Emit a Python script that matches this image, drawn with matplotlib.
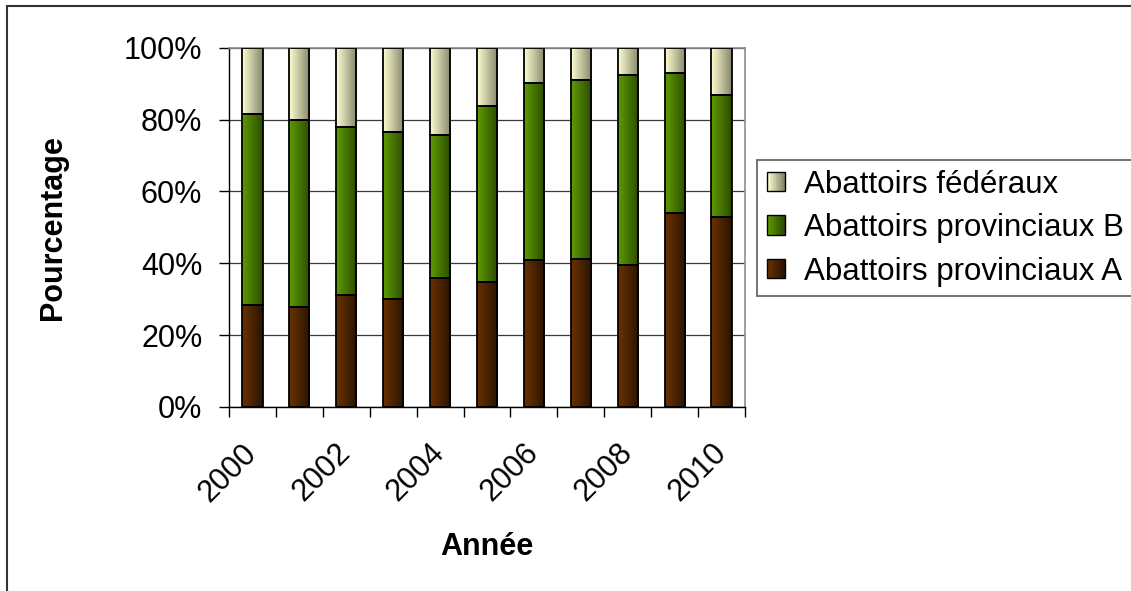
import numpy as np
import matplotlib
matplotlib.use("Agg")
import matplotlib.pyplot as plt
from matplotlib.colors import LinearSegmentedColormap
from matplotlib.patches import Rectangle
from matplotlib.legend_handler import HandlerBase
from matplotlib.transforms import ScaledTranslation

plt.rcParams["font.family"] = ["Liberation Sans", "DejaVu Sans"]

# Share of slaughter by type of abattoir (percent of total)
years = [2000, 2001, 2002, 2003, 2004, 2005, 2006, 2007, 2008, 2009, 2010]
prov_a = [28.3, 27.9, 31.3, 30.0, 35.9, 34.9, 40.8, 41.2, 39.4, 53.9, 52.9]
prov_b = [53.3, 51.9, 46.7, 46.6, 39.8, 48.9, 49.4, 49.8, 53.0, 39.0, 34.0]
federal = [100 - a - b for a, b in zip(prov_a, prov_b)]

series_names = ["Abattoirs provinciaux A", "Abattoirs provinciaux B", "Abattoirs fédéraux"]
series_values = [prov_a, prov_b, federal]
# light (left edge) -> dark (right edge) shading of each bar
gradients = [
    ("#6a3200", "#2a1300"),
    ("#5e9c00", "#2c4a00"),
    ("#ffffd2", "#85856a"),
]
year_labels = [str(y) if y % 2 == 0 else "" for y in years]

W, H = 1131, 591
fig = plt.figure(figsize=(W / 100, H / 100), dpi=100)
ax = fig.add_axes([229 / W, 1 - 407 / H, (745 - 229) / W, (407 - 47.7) / H])

x = np.arange(len(years))
bar_w = 0.43
grad = np.linspace(0, 1, 256).reshape(1, -1)
bottom = np.zeros(len(years))
for vals, (c0, c1) in zip(series_values, gradients):
    cmap = LinearSegmentedColormap.from_list("shade", [c0, c1])
    bars = ax.bar(x, vals, bar_w, bottom=bottom, facecolor="none",
                  edgecolor="black", linewidth=1.3, zorder=3)
    for patch in bars.patches:
        x0, y0 = patch.get_x(), patch.get_y()
        im = ax.imshow(grad, cmap=cmap, aspect="auto", interpolation="bilinear",
                       extent=[x0, x0 + patch.get_width(), y0, y0 + patch.get_height()],
                       zorder=2)
        im.set_clip_path(patch)
    bottom += np.array(vals)

ax.set_xlim(-0.5, len(years) - 0.5)
ax.set_ylim(0, 100)

FS = 22

# horizontal grid
ax.set_yticks(np.arange(0, 101, 20))
ax.set_yticklabels([f"{v}%" for v in range(0, 101, 20)], fontsize=FS)
ax.yaxis.grid(True, color="#3a3a3a", linewidth=0.9, zorder=0)
ax.set_axisbelow(True)

# category axis: ticks between bars, labels centred under bars
ax.set_xticks(np.arange(-0.5, len(years), 1.0))
ax.set_xticklabels([])
ax.set_xticks(x, minor=True)
ax.set_xticklabels(year_labels, minor=True, rotation=45, ha="right",
                   va="center", rotation_mode="anchor", fontsize=FS)
shift = ScaledTranslation(-17 / 100, 0, fig.dpi_scale_trans)
for lab in ax.get_xticklabels(minor=True):
    lab.set_transform(lab.get_transform() + shift)
ax.tick_params(axis="x", which="major", length=7.5, width=1, color="black", direction="out")
ax.tick_params(axis="x", which="minor", length=0, pad=30)
ax.tick_params(axis="y", length=7.2, width=1, pad=12)

for side in ("top", "right"):
    ax.spines[side].set_color("#8c8c8c")
    ax.spines[side].set_linewidth(1.2)
for side in ("left", "bottom"):
    ax.spines[side].set_color("black")
    ax.spines[side].set_linewidth(1.0)

ax.set_ylabel("Pourcentage", fontsize=FS, fontweight="bold", va="center")
ax.yaxis.set_label_coords(-0.341, 0.5)
ax.set_xlabel("Année", fontsize=FS, fontweight="bold", va="center")
ax.xaxis.set_label_coords(0.5, -0.39)


class GradientSquare(HandlerBase):
    def __init__(self, c0, c1):
        super().__init__()
        self.cmap = LinearSegmentedColormap.from_list("shade", [c0, c1])

    def create_artists(self, legend, orig_handle, xdescent, ydescent,
                       width, height, fontsize, trans):
        n = 12
        arts = []
        for i in range(n):
            arts.append(Rectangle((-xdescent + width * i / n, -ydescent), width / n + 0.2,
                                  height, facecolor=self.cmap(i / (n - 1)),
                                  edgecolor="none", transform=trans))
        arts.append(Rectangle((-xdescent, -ydescent), width, height, facecolor="none",
                              edgecolor="black", linewidth=1.0, transform=trans))
        return arts


LFS = 22.5
handles = [Rectangle((0, 0), 1, 1) for _ in series_names]
handler_map = {h: GradientSquare(*g) for h, g in zip(handles, gradients)}
leg = fig.legend(handles[::-1], series_names[::-1], handler_map=handler_map,
                 loc="upper left", bbox_to_anchor=(757 / W, 1 - 160 / H),
                 bbox_transform=fig.transFigure, borderaxespad=0, fontsize=LFS,
                 frameon=True, fancybox=False, handlelength=0.58, handleheight=0.58,
                 handletextpad=0.6, labelspacing=0.43, borderpad=0.31)
leg.get_frame().set_edgecolor("#333333")
leg.get_frame().set_linewidth(1.2)

# outer chart border
fig.add_artist(Rectangle((7 / W, -0.1), 2.0, 1.1 - 6 / H, transform=fig.transFigure,
                         fill=False, edgecolor="#333333", linewidth=1.5))

fig.savefig("out.png", dpi=100)
